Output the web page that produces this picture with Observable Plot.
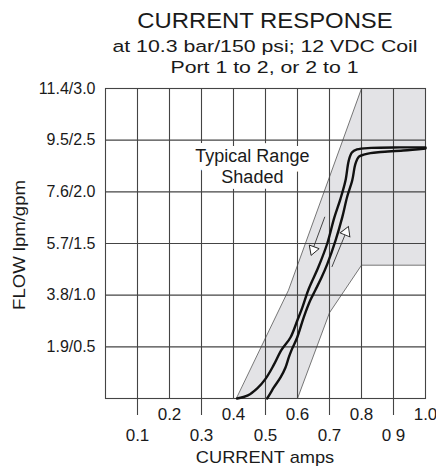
<!DOCTYPE html>
<html><head><meta charset="utf-8">
<script src="https://cdn.jsdelivr.net/npm/d3@7"></script>
<script src="https://cdn.jsdelivr.net/npm/@observablehq/plot@0.6"></script>
<style>
body{margin:0;background:#fff;}
#chart{width:436px;height:466px;overflow:hidden;}
</style></head><body><div id="chart"></div>
<script>
// ---- text ----
const titleLines = ["CURRENT RESPONSE", "at 10.3 bar/150 psi; 12 VDC Coil", "Port 1 to 2, or 2 to 1"];
const xAxisTitle = "CURRENT amps";
const yAxisTitle = "FLOW lpm/gpm";
const noteText = "Typical Range\nShaded";

// ---- ticks ----
const oddTicks = [0.1, 0.3, 0.5, 0.7, 0.9];
const oddLabels = ["0.1", "0.3", "0.5", "0.7", "0 9"];
const evenTicks = [0.2, 0.4, 0.6, 0.8, 1.0];
const evenLabels = ["0.2", "0.4", "0.6", "0.8", "1.0"];
const xGrid = [0.1, 0.2, 0.3, 0.4, 0.5, 0.6, 0.7, 0.8, 0.9];
const flowTicks = [0.5, 1.0, 1.5, 2.0, 2.5, 3.0];
const flowLabels = ["1.9/0.5", "3.8/1.0", "5.7/1.5", "7.6/2.0", "9.5/2.5", "11.4/3.0"];
const yGrid = [0.5, 1.0, 1.5, 2.0, 2.5];

// ---- typical range (shaded polygon), amps / gpm ----
const shadeCurrent = [0.41, 0.6, 0.7, 0.8, 1.0, 1.0, 0.8, 0.572];
const shadeFlow    = [0,    0,   0.83, 1.29, 1.29, 3.0, 3.0, 1.05];

// ---- decreasing-current curve (left) ----
const decCurrent = [0.411, 0.445, 0.475, 0.5, 0.525, 0.55, 0.578, 0.6, 0.615, 0.635, 0.665, 0.693, 0.715, 0.734, 0.75, 0.76, 0.77, 0.786, 0.83, 0.92, 1.0];
const decFlow    = [0, 0.03, 0.1, 0.19, 0.32, 0.47, 0.59, 0.76, 0.88, 1.06, 1.27, 1.5, 1.75, 1.93, 2.11, 2.3, 2.38, 2.41, 2.425, 2.43, 2.43];

// ---- increasing-current curve (right) ----
const incCurrent = [0.505, 0.515, 0.526, 0.547, 0.5625, 0.573, 0.583, 0.599, 0.62, 0.64, 0.656, 0.675, 0.693, 0.719, 0.74, 0.755, 0.771, 0.781, 0.792, 0.807, 0.828, 0.86, 0.93, 1.0];
const incFlow    = [0, 0.05, 0.107, 0.204, 0.30, 0.40, 0.48, 0.59, 0.79, 0.95, 1.05, 1.17, 1.30, 1.53, 1.755, 1.95, 2.11, 2.27, 2.34, 2.36, 2.375, 2.385, 2.40, 2.42];

// ---- direction arrows ----
const downShaftCurrent = [0.685, 0.651];
const downShaftFlow    = [1.755, 1.47];
const upShaftCurrent   = [0.708, 0.748];
const upShaftFlow      = [1.277, 1.58];
const headCurrent = [0.649, 0.752];
const headFlow    = [1.44, 1.61];
const headAngle   = [200, 22];

// ---- note position ----
const noteCurrent = [0.459];
const noteFlow = [2.082];

const toRows = (xs, ys) => xs.map((x, i) => ({x, y: ys[i]}));
const shade = toRows(shadeCurrent, shadeFlow);
const dec = toRows(decCurrent, decFlow);
const inc = toRows(incCurrent, incFlow);
const downShaft = toRows(downShaftCurrent, downShaftFlow);
const upShaft = toRows(upShaftCurrent, upShaftFlow);
const heads = headCurrent.map((x, i) => ({x, y: headFlow[i], a: headAngle[i]}));
const notes = noteCurrent.map((x, i) => ({x, y: noteFlow[i], t: noteText}));

const FONT = "'Liberation Sans', Arial, Helvetica, sans-serif";
const GRID = "#444";

const svg = Plot.plot({
  width: 436, height: 466,
  marginLeft: 105, marginRight: 11, marginTop: 88, marginBottom: 68,
  style: {fontFamily: FONT, background: "white", color: "#1a1a1a", overflow: "visible"},
  x: {domain: [0, 1], label: null},
  y: {domain: [0, 3], label: null},
  marks: [
    Plot.line(shade, {x: "x", y: "y", curve: "linear-closed", fill: "#e3e3e6", stroke: "#555", strokeWidth: 0.8}),
    Plot.gridX(xGrid, {stroke: GRID, strokeOpacity: 1, strokeWidth: 1.1}),
    Plot.gridY(yGrid, {stroke: GRID, strokeOpacity: 1, strokeWidth: 1.1}),
    Plot.frame({stroke: GRID, strokeWidth: 1.1}),
    Plot.text(notes, {x: "x", y: "y", text: "t", fontSize: 18, lineAnchor: "bottom", lineHeight: 1.183,
      fill: "#1a1a1a", stroke: "white", strokeWidth: 12, strokeLinejoin: "round"}),
    Plot.line(dec, {x: "x", y: "y", curve: "catmull-rom", stroke: "#111", strokeWidth: 2.4}),
    Plot.line(inc, {x: "x", y: "y", curve: "catmull-rom", stroke: "#111", strokeWidth: 2.4}),
    Plot.line(downShaft, {x: "x", y: "y", stroke: "#333", strokeWidth: 0.9}),
    Plot.line(upShaft, {x: "x", y: "y", stroke: "#333", strokeWidth: 0.9}),
    Plot.dot(heads, {x: "x", y: "y", rotate: "a", symbol: "triangle", r: 3.9, fill: "white", stroke: "#222", strokeWidth: 0.9}),
    Plot.axisY(flowTicks, {label: null, tickSize: 0, tickPadding: 10, fontSize: 16,
      tickFormat: d => flowLabels[flowTicks.indexOf(d)]}),
    Plot.axisX(oddTicks, {label: null, tickSize: 17, tickPadding: 13, fontSize: 17, stroke: GRID, strokeWidth: 1.1,
      tickFormat: d => oddLabels[oddTicks.indexOf(d)]}),
    Plot.axisX(evenTicks, {label: null, tickSize: 0, tickPadding: 9, fontSize: 17,
      tickFormat: d => evenLabels[evenTicks.indexOf(d)]})
  ]
});

const s = d3.select(svg);
const addText = (txt, x, y, size, sx, rot) => {
  s.append("text")
    .attr("transform", `translate(${x},${y})` + (rot ? ` rotate(${rot})` : "") + ` scale(${sx},1)`)
    .attr("text-anchor", "middle")
    .attr("font-family", FONT)
    .attr("font-size", size)
    .attr("fill", "#1a1a1a")
    .text(txt);
};
addText(titleLines[0], 265, 27.7, 21.5, 1.11);
addText(titleLines[1], 265, 52, 16.5, 1.29);
addText(titleLines[2], 264.5, 73.3, 16.5, 1.29);
addText(xAxisTitle, 265, 463, 16, 1.14);
addText(yAxisTitle, 24.5, 245, 16, 1.16, -90);

document.getElementById("chart").appendChild(svg);
</script>
</body></html>
